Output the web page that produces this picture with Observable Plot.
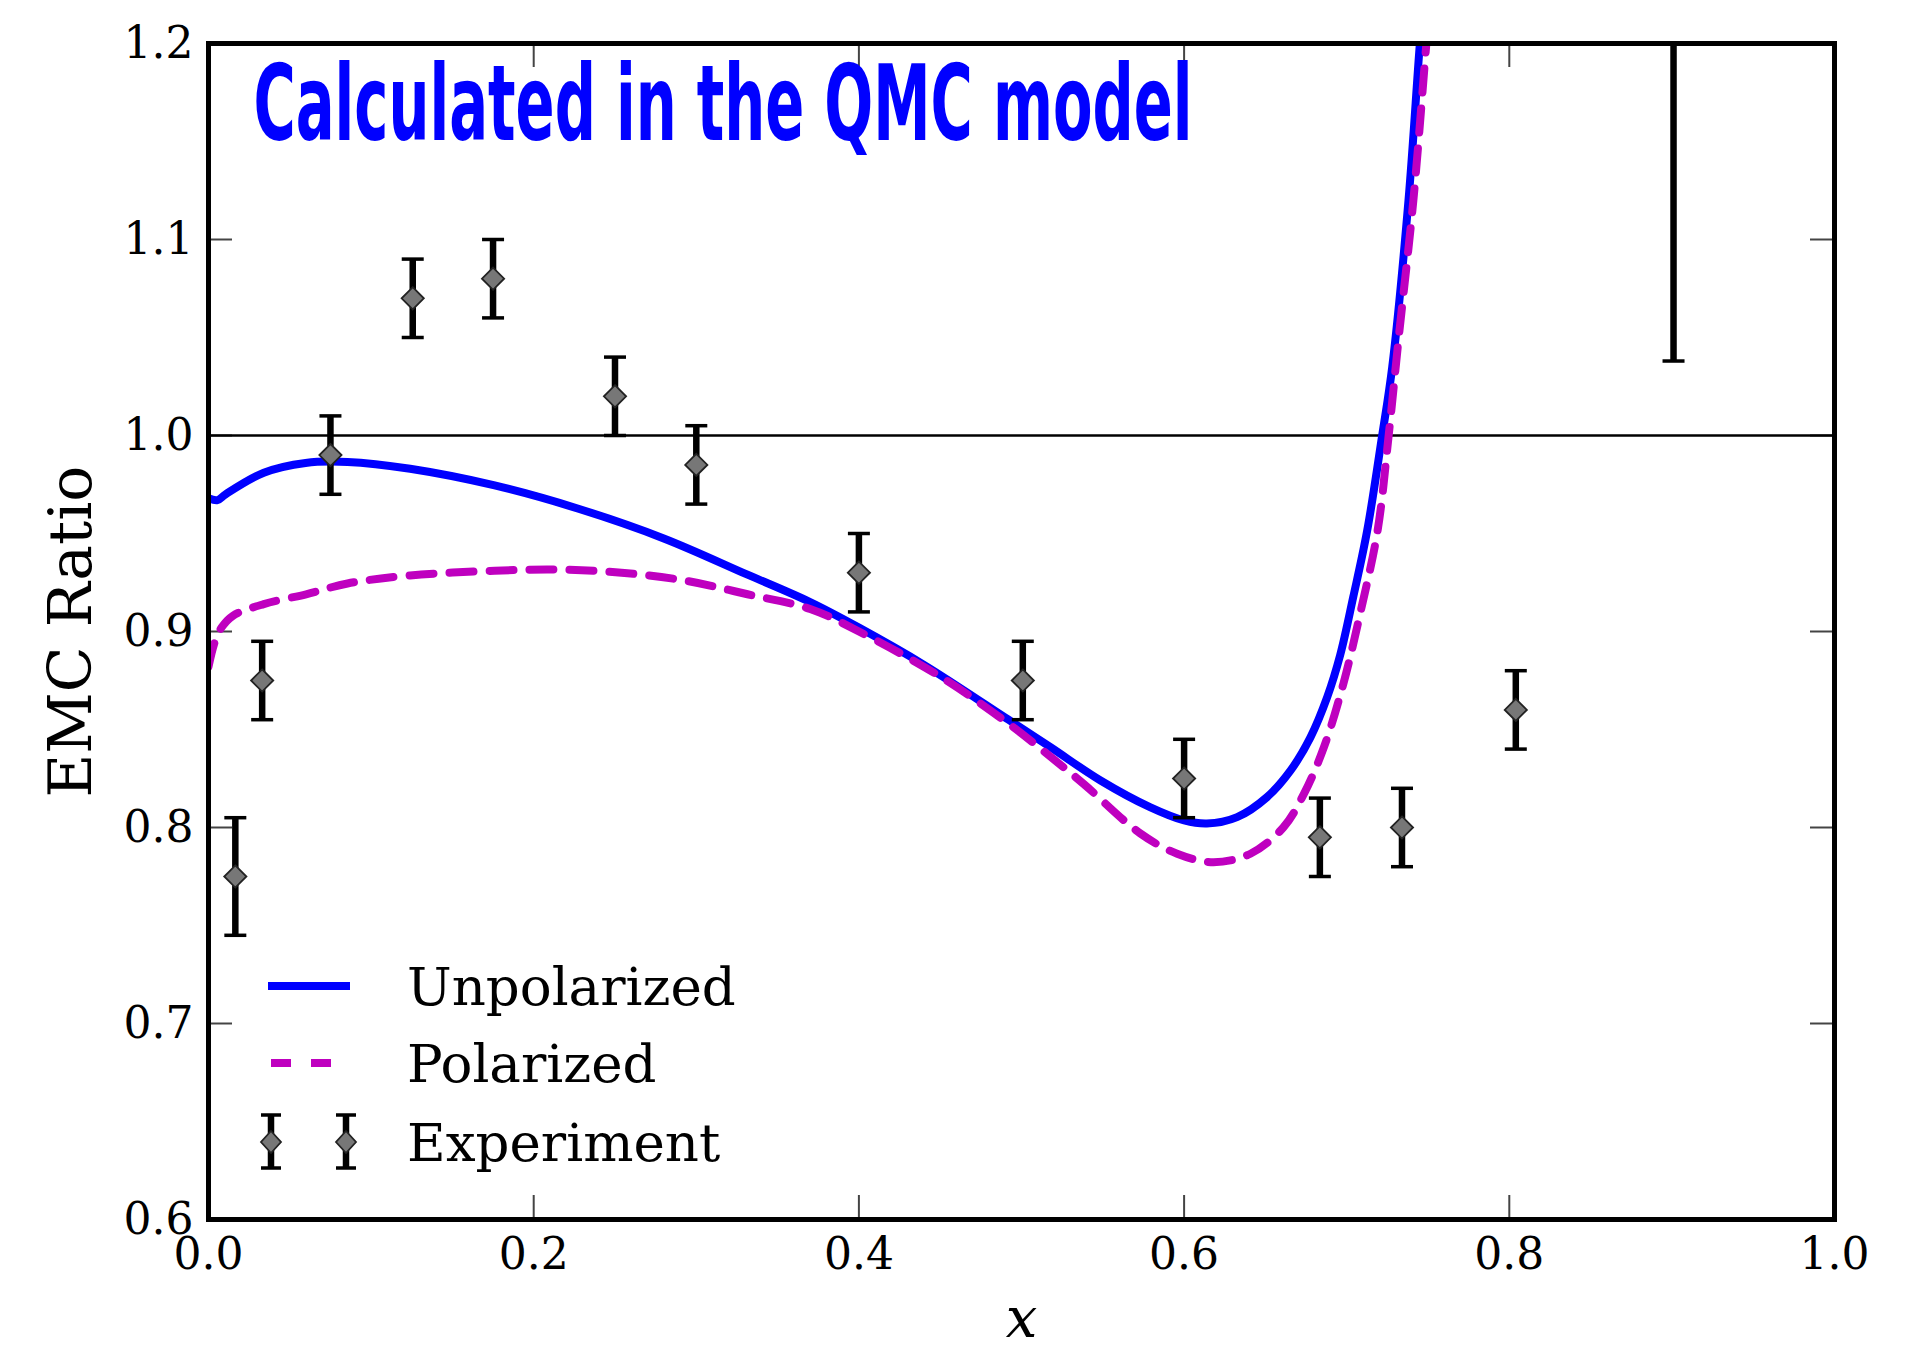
<!DOCTYPE html>
<html>
<head>
<meta charset="utf-8">
<script src="https://cdn.jsdelivr.net/npm/d3@7"></script>
<script src="https://cdn.jsdelivr.net/npm/@observablehq/plot@0.6"></script>
<style>
  html, body { margin: 0; padding: 0; background: #fff; }
  #chart { width: 1917px; height: 1349px; }
</style>
</head>
<body>
<div id="chart"></div>
<script>
// ---------- data ----------
const titleText = "Calculated in the QMC model";
const yLabel = "EMC Ratio";
const xLabel = "x";
const legendLabels = ["Unpolarized", "Polarized", "Experiment"];

const xTicks = [0.0, 0.2, 0.4, 0.6, 0.8, 1.0];
const yTicks = [0.6, 0.7, 0.8, 0.9, 1.0, 1.1, 1.2];

// Unpolarized (blue solid)
const unpolX = [0, 0.0055, 0.0105, 0.034, 0.0597, 0.0855, 0.124, 0.176, 0.228, 0.28, 0.3315, 0.37, 0.40, 0.44, 0.492, 0.5178, 0.5486, 0.579, 0.600, 0.614, 0.6326, 0.651, 0.6654, 0.6777, 0.688, 0.696, 0.704, 0.7126, 0.7218, 0.728, 0.738, 0.745, 0.749];
const unpolY = [0.968, 0.967, 0.970, 0.981, 0.986, 0.9865, 0.983, 0.9745, 0.9625, 0.9475, 0.929, 0.915, 0.902, 0.883, 0.855, 0.841, 0.824, 0.8104, 0.8036, 0.802, 0.8053, 0.8155, 0.829, 0.846, 0.8665, 0.888, 0.9175, 0.9515, 1.000, 1.035, 1.12, 1.20, 1.24];

// Polarized (magenta dashed)
const polX = [0, 0.004, 0.008, 0.015, 0.034, 0.06, 0.0855, 0.124, 0.176, 0.215, 0.254, 0.293, 0.3315, 0.37, 0.40, 0.45, 0.492, 0.518, 0.538, 0.573, 0.5957, 0.618, 0.6408, 0.661, 0.6736, 0.686, 0.698, 0.7085, 0.719, 0.7258, 0.732, 0.741, 0.749, 0.753];
const polY = [0.882, 0.895, 0.902, 0.908, 0.914, 0.919, 0.9245, 0.9286, 0.931, 0.9316, 0.930, 0.926, 0.919, 0.9115, 0.900, 0.877, 0.853, 0.836, 0.8224, 0.797, 0.7866, 0.7823, 0.7866, 0.800, 0.817, 0.841, 0.8735, 0.910, 0.9515, 1.000, 1.05, 1.12, 1.20, 1.24];

// Experiment (points with symmetric errors)
const expX   = [0.0165, 0.033, 0.075, 0.1256, 0.175, 0.250, 0.300, 0.400, 0.5008, 0.600, 0.6835, 0.734, 0.804, 0.901];
const expY   = [0.775, 0.875, 0.990, 1.070, 1.080, 1.020, 0.985, 0.930, 0.875, 0.825, 0.795, 0.800, 0.860, 1.300];
const expErr = [0.030, 0.020, 0.020, 0.020, 0.020, 0.020, 0.020, 0.020, 0.020, 0.020, 0.020, 0.020, 0.020, 0.262];

// ---------- build tables ----------
const unpol = unpolX.map((x, i) => ({x, y: unpolY[i]}));
const pol = polX.map((x, i) => ({x, y: polY[i]}));
const exp = expX.map((x, i) => ({x, y: expY[i], lo: expY[i] - expErr[i], hi: expY[i] + expErr[i]}));

const W = 1917, H = 1349;
const mL = 208, mR = 83, mT = 43, mB = 130;
const innerW = W - mL - mR, innerH = H - mT - mB;
const TICK = 24;
const serif = "'DejaVu Serif', serif";
const BLUE = "#0000ff", MAG = "#bf00bf";
const LW = 8, BARW = 6.5, CAPW = 3.5;

const capSymbol = {
  draw(ctx, size) {
    const w = Math.sqrt(size / Math.PI);
    ctx.moveTo(-w, 0);
    ctx.lineTo(w, 0);
  }
};

const svg = Plot.plot({
  width: W,
  height: H,
  marginLeft: mL, marginRight: mR, marginTop: mT, marginBottom: mB,
  style: {background: "#fff", color: "#000", fontFamily: serif},
  x: {domain: [0, 1]},
  y: {domain: [0.6, 1.2]},
  marks: [
    // ticks (inward, all four sides)
    Plot.ruleX(xTicks, {x: d => d, insetTop: innerH - TICK, stroke: "#444", strokeWidth: 2}),
    Plot.ruleX(xTicks, {x: d => d, insetBottom: innerH - TICK, stroke: "#444", strokeWidth: 2}),
    Plot.ruleY(yTicks, {y: d => d, insetRight: innerW - TICK, stroke: "#444", strokeWidth: 2}),
    Plot.ruleY(yTicks, {y: d => d, insetLeft: innerW - TICK, stroke: "#444", strokeWidth: 2}),
    // reference line at 1
    Plot.ruleY([1.0], {stroke: "#000", strokeWidth: 2.5}),
    // curves
    Plot.line(unpol, {x: "x", y: "y", stroke: BLUE, strokeWidth: LW, curve: "catmull-rom", clip: true}),
    Plot.line(pol, {x: "x", y: "y", stroke: MAG, strokeWidth: LW, strokeDasharray: "24,16", curve: "catmull-rom", clip: true}),
    // experiment
    Plot.ruleX(exp, {x: "x", y1: "lo", y2: "hi", stroke: "#000", strokeWidth: BARW, clip: true}),
    Plot.dot(exp, {x: "x", y: "lo", symbol: capSymbol, r: 11, stroke: "#000", strokeWidth: CAPW, fill: "none", clip: true}),
    Plot.dot(exp, {x: "x", y: "hi", symbol: capSymbol, r: 11, stroke: "#000", strokeWidth: CAPW, fill: "none", clip: true}),
    Plot.dot(exp, {x: "x", y: "y", symbol: "diamond2", r: 10, fill: "#777", stroke: "#222", strokeWidth: 1.8, clip: true}),
    // axes
    Plot.axisX(xTicks, {anchor: "bottom", tickSize: 0, tickPadding: 18, tickFormat: d3.format(".1f"), fontSize: 44, fontFamily: serif, label: null}),
    Plot.axisY(yTicks, {anchor: "left", tickSize: 0, tickPadding: 15, tickFormat: d3.format(".1f"), fontSize: 44, fontFamily: serif, label: null}),
    // axis labels
    Plot.text([yLabel], {text: d => d, frameAnchor: "left", textAnchor: "middle", lineAnchor: "middle", rotate: -90, dx: -137, fontSize: 60, fontFamily: serif, fill: "#000"}),
    Plot.text([xLabel], {text: d => d, frameAnchor: "bottom", textAnchor: "middle", lineAnchor: "middle", dy: 100, fontSize: 56, fontFamily: serif, fontStyle: "italic", fill: "#000"}),
    // title
    Plot.text([titleText], {text: d => d, frameAnchor: "top-left", textAnchor: "start", lineAnchor: "top", dx: 45, dy: 22, fontSize: 105, fontWeight: "bold", fontFamily: "'Liberation Sans Narrow', 'DejaVu Sans Condensed', 'DejaVu Sans', sans-serif", fill: BLUE, className: "chart-title"}),
    Plot.frame({stroke: "#000", strokeWidth: 5})
  ]
});

document.getElementById("chart").appendChild(svg);

// compress the condensed title to the reference width
const titleNode = svg.querySelector(".chart-title text");
if (titleNode) {
  titleNode.setAttribute("textLength", 939);
  titleNode.setAttribute("lengthAdjust", "spacingAndGlyphs");
  titleNode.style.fontStretch = "condensed";
}

// ---------- legend (inside the frame, lower-left) ----------
const lg = d3.select(svg).append("g")
  .attr("font-family", serif).attr("font-size", 53).attr("text-anchor", "start");
const rowY = [986, 1063, 1142];
const textX = 407;
// Unpolarized
lg.append("line").attr("x1", 268).attr("x2", 350).attr("y1", rowY[0]).attr("y2", rowY[0])
  .attr("stroke", BLUE).attr("stroke-width", LW);
// Polarized
lg.append("line").attr("x1", 271).attr("x2", 332).attr("y1", rowY[1]).attr("y2", rowY[1])
  .attr("stroke", MAG).attr("stroke-width", LW).attr("stroke-dasharray", "20,20");
// Experiment markers
[271, 346].forEach(cx => {
  const g = lg.append("g");
  g.append("line").attr("x1", cx).attr("x2", cx).attr("y1", rowY[2] - 27).attr("y2", rowY[2] + 26)
    .attr("stroke", "#000").attr("stroke-width", BARW);
  g.append("line").attr("x1", cx - 10).attr("x2", cx + 10).attr("y1", rowY[2] - 27).attr("y2", rowY[2] - 27)
    .attr("stroke", "#000").attr("stroke-width", CAPW);
  g.append("line").attr("x1", cx - 10).attr("x2", cx + 10).attr("y1", rowY[2] + 26).attr("y2", rowY[2] + 26)
    .attr("stroke", "#000").attr("stroke-width", CAPW);
  g.append("path").attr("d", `M${cx},${rowY[2]-11}L${cx+10},${rowY[2]}L${cx},${rowY[2]+11}L${cx-10},${rowY[2]}Z`)
    .attr("fill", "#777").attr("stroke", "#222").attr("stroke-width", 1.8);
});
legendLabels.forEach((t, i) => {
  lg.append("text").attr("x", textX).attr("y", rowY[i]).attr("dy", "0.35em").attr("fill", "#000").text(t);
});
</script>
</body>
</html>
